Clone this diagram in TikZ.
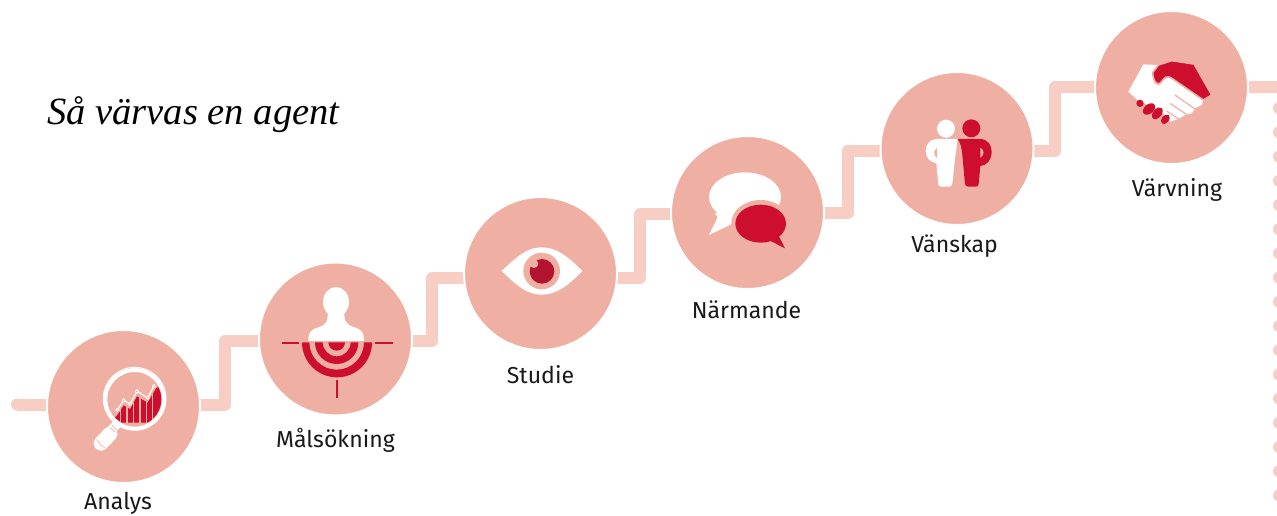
\documentclass[tikz,border=0pt]{standalone}
\usepackage{fontspec}
\setmainfont{Fira Sans}
\newfontfamily\titlefont{Liberation Serif}
\usetikzlibrary{backgrounds}
\definecolor{disc}{HTML}{EFB0A3}
\definecolor{pale}{HTML}{F7CDC4}
\definecolor{brand}{HTML}{CE0E2D}
\definecolor{pupil}{HTML}{B2132F}
\tikzset{
  x=0.75pt,y=-0.75pt,
  stepdisc/.style={circle,fill=disc,draw=white,line width=1.5pt,minimum size=114.75pt,inner sep=0pt},
  conn/.style={draw=pale,line width=9pt,line join=round,line cap=butt},
  steplabel/.style={font=\fontsize{17.3}{20}\selectfont,text=black!90,inner sep=0pt,anchor=center},
}
\begin{document}
\begin{tikzpicture}
\useasboundingbox (0,0) rectangle (1277,515);
\clip (0,0) rectangle (1277,515);
% discs
\node[stepdisc] (c1) at (123.5,406.5) {};
\node[stepdisc] (c2) at (335.5,339) {};
\node[stepdisc] (c3) at (540.5,273.5) {};
\node[stepdisc] (c4) at (747.5,212.5) {};
\node[stepdisc] (c5) at (957,148.5) {};
\node[stepdisc] (c6) at (1171.5,87.5) {};
% connector waypoints
\coordinate (start) at (17,404.5);
\coordinate (a1) at (225,404.5); \coordinate (b1) at (225,341);
\coordinate (a2) at (432,341);   \coordinate (b2) at (432,278);
\coordinate (a3) at (640,277.5); \coordinate (b3) at (640,214);
\coordinate (a4) at (847.5,213); \coordinate (b4) at (847.5,151);
\coordinate (a5) at (1055,150.5);\coordinate (b5) at (1055,87);
\coordinate (finish) at (1285,87);
\begin{pgfonlayer}{background}
\fill[pale] (start) circle (6);
\draw[conn] (start) -- (c1 |- start);
\draw[conn] (c1 |- a1) -- (a1) -- (b1) -- (c2 |- b1);
\draw[conn] (c2 |- a2) -- (a2) -- (b2) -- (c3 |- b2);
\draw[conn] (c3 |- a3) -- (a3) -- (b3) -- (c4 |- b3);
\draw[conn] (c4 |- a4) -- (a4) -- (b4) -- (c5 |- b4);
\draw[conn] (c5 |- a5) -- (a5) -- (b5) -- (c6 |- b5);
\draw[conn] (c6 |- finish) -- (finish);
\end{pgfonlayer}
% dotted line
\foreach \i in {0,...,16} \fill[pale] (1279,108.2+24.2*\i) circle (6);
% title
\node[anchor=base west,inner sep=0pt,font=\titlefont\itshape\fontsize{28.9}{34}\selectfont] (title) at (47,124) {Så värvas en agent};
% labels
\node[steplabel] (l1) at (118,503.5) {Analys};
\node[steplabel] (l2) at (335.5,440) {Målsökning};
\node[steplabel] (l3) at (540.5,375) {Studie};
\node[steplabel] (l4) at (746.5,310) {Närmande};
\node[steplabel] (l5) at (954.5,246) {Vänskap};
\node[steplabel] (l6) at (1177,190) {Värvning};
% magnifier
\begin{scope}[shift={(90,360)},scale=0.3333]
  \begin{scope}
    \clip (134,118) circle (80);
    \fill[brand] (82,165) -- (101,136) -- (120,147) -- (141,109) -- (173,128) -- (200,82) -- (225,82) -- (225,188) -- (60,188) -- cycle;
    \foreach \x in {91,111,131,150,170,187} \draw[disc,line width=1.1pt] (\x,70) -- (\x,200);
  \end{scope}
  \draw[white,line width=3pt] (134,118) circle (88);
  \draw[white,line width=0.7pt] (134,116) circle (94);
  \draw[white,line width=0.9pt] (82,150) -- (101,121) -- (120,132) -- (141,94) -- (173,113) -- (192,78);
  \foreach \p in {(82,150),(101,121),(120,132),(141,94),(173,113),(192,78)}
    \draw[white,fill=disc,line width=0.6pt] \p circle (5);
  \draw[white,line width=7pt] (85,188) -- (62,212);
  \draw[white,line width=11pt,line cap=round] (60,222) -- (33,250);
  \draw[disc,line width=0.5pt] (66,196) -- (80,210);
  \draw[disc,line width=0.5pt] (60,202) -- (74,216);
  \draw[disc,line width=0.5pt] (20,238) .. controls (28,250) and (35,258) .. (45,264);
\end{scope}
% target person
\begin{scope}[shift={(250,255)},scale=0.3333]
  \fill[white] (258,141) ellipse (39 and 45);
  \fill[white] (175,258) .. controls (175,235) and (180,224) .. (205,217)
     .. controls (228,210) and (236,200) .. (232,165) -- (284,165)
     .. controls (280,200) and (290,210) .. (314,217)
     .. controls (336,224) and (342,235) .. (342,258) -- cycle;
  \fill[brand] (156,262) arc[start angle=180,end angle=0,radius=105] -- (342,262) arc[start angle=0,end angle=180,radius=82] -- cycle;
  \fill[brand] (195,262) arc[start angle=180,end angle=0,radius=65] -- (302,262) arc[start angle=0,end angle=180,radius=42] -- cycle;
  \fill[brand] (235,262) arc[start angle=180,end angle=0,radius=25] -- cycle;
  \draw[brand,line width=1.5pt] (95,263) -- (148,263);
  \draw[brand,line width=1.5pt] (375,263) -- (428,263);
  \draw[brand,line width=1.5pt] (260,375) -- (260,428);
\end{scope}
% eye
\begin{scope}[shift={(455,190)},scale=0.3333]
  \fill[white] (140,243) .. controls (190,195) and (220,172) .. (260,172) .. controls (300,172) and (335,195) .. (382,243)
     .. controls (335,292) and (300,314) .. (260,314) .. controls (220,314) and (190,292) .. (140,243) -- cycle;
  \fill[disc] (260,243) circle (55);
  \fill[pupil] (261,244) circle (37);
  \fill[disc] (237,221) circle (13);
\end{scope}
% speech bubbles
\begin{scope}[shift={(665,130)},scale=0.3333]
  \fill[white] (240,201) ellipse (108 and 74);
  \fill[white] (150,250) -- (158,262) -- (132,315) -- (205,280) -- (230,240) -- cycle;
  \fill[disc] (287,279) ellipse (88 and 69);
  \fill[brand] (287,281) ellipse (76 and 57);
  \fill[brand] (315,332) -- (360,355) -- (340,315) -- cycle;
\end{scope}
% friends
\begin{scope}[shift={(875,65)},scale=0.3333]
  \fill[white] (213,191) circle (27);
  \fill[brand] (289,190) circle (27);
  \fill[white] (248,222) -- (185,222) .. controls (165,222) and (152,238) .. (152,258)
     .. controls (152,278) and (165,292) .. (184,295) -- (190,357) .. controls (191,362) and (193,365) .. (198,365)
     -- (222,365) .. controls (228,365) and (231,362) .. (232,357) -- (240,280) -- cycle;
  \fill[disc] (186,249) .. controls (175,255) and (175,272) .. (186,279) -- cycle;
  \fill[brand] (248,222) -- (315,222) .. controls (338,222) and (350,240) .. (350,260)
     .. controls (350,285) and (335,302) .. (316,303) -- (311,357) .. controls (310,362) and (308,365) .. (303,365)
     -- (280,365) .. controls (274,365) and (271,362) .. (270,357) -- (262,270) .. controls (260,245) and (255,232) .. (248,222) -- cycle;
  \fill[disc] (316,248) .. controls (329,255) and (329,270) .. (316,278) -- cycle;
\end{scope}
% handshake
\begin{scope}[shift={(1120,50)},scale=0.3333]
  \fill[white] (70,43) -- (115,45) -- (97,75) -- (103,100) -- (118,105) -- (135,85) -- (150,80) -- (250,150)
     -- (245,165) -- (225,175) -- (215,190) -- (195,195) -- (175,207) -- (150,215) -- (130,190) -- (50,148) -- (25,125) -- cycle;
  \fill[brand,draw=disc,line width=1.2pt] (98,68) -- (115,45) -- (155,32) -- (222,42) -- (275,135) -- (250,150) -- (160,88)
     .. controls (148,78) and (138,78) .. (130,88) -- (120,100) .. controls (110,106) and (100,95) .. (98,68) -- cycle;
  \draw[disc,line width=0.9pt] (165,135) -- (225,177);
  \draw[disc,line width=0.9pt] (150,160) -- (205,197);
  \draw[disc,line width=0.9pt] (140,183) -- (178,208);
  \fill[brand] (60,160) circle (11);
  \fill[brand,rotate around={40:(87,177)}] (87,177) ellipse (21 and 14);
  \fill[brand,rotate around={50:(112,190)}] (112,190) ellipse (20 and 13);
  \fill[brand,rotate around={50:(136,208)}] (136,208) ellipse (16 and 11);
\end{scope}
\end{tikzpicture}
\end{document}
